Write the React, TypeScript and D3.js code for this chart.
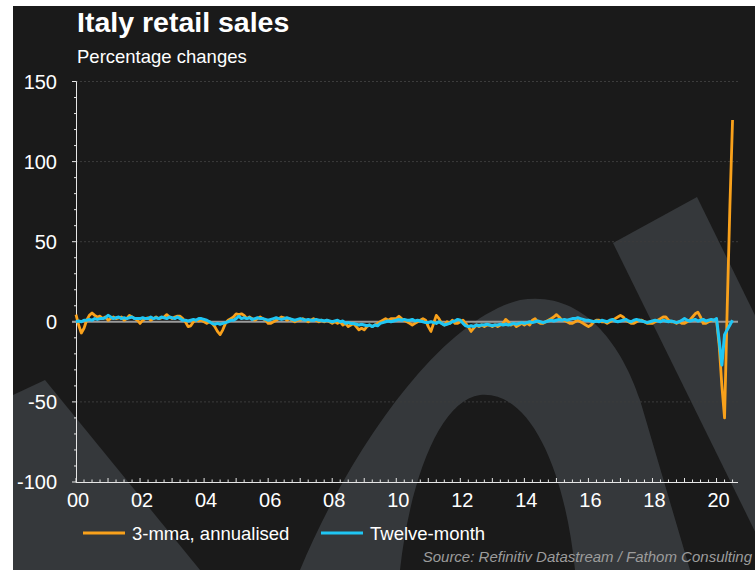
import React from "react";
import * as d3 from "d3";

// ---- DATA (monthly, Jan 2000 – Jul 2020) ----
const startYear = 2000;
const xTickLabels = ["00", "02", "04", "06", "08", "10", "12", "14", "16", "18", "20"];
const yTicks = [150, 100, 50, 0, -50, -100];
const seriesNames = ["3-mma, annualised", "Twelve-month"];

const mma3Annualised = [
  4.5, -2, -7, -4, 1, 4, 5.5, 4, 3, 3.5, 2, 3,
  1, 2, 3, 2, 2.5, 3, 1, 2, 4, 3, 2, 1,
  -1, 1, 2, 2.5, 1, 2, 3, 2, 2.5, 3, 4.5, 3,
  2, 3, 3.5, 3.5, 2, 0, -3, -2.5, 0, 1, 0.5, 1,
  0, -1, 0, -1, -3, -6, -8, -5, -1, 1, 2, 3,
  5, 4.5, 5, 4, 2, 3, 2, 1, 2, 3, 2, 1,
  -1, -1, 0, 1, 2, 3, 2.5, 1, 2, 1, 0, 1,
  1, 2, 1, 0, 1, 2, 1, 0, 1, 0, 1, 0,
  -1, 0, -1, 0, -2, -1, -3, -2, -1, -3, -5, -4,
  -5, -3, -2, -3, -2, -1, 0, 1, 2, 1, 2, 2,
  2, 3.5, 2, 1, 0, -1, -2, -1, 0, 1, 2, 1,
  -3, -6, -1, 4, 2, -1, -2, 0, -1, 1, -1, -1,
  0, 1, -1, -3, -6, -4, -2, -3, -2, -3, -2, -2,
  -3, -2, -3, -2, -1, 1.5, 0, -2, -1, -3, -2, -1,
  -2, -1, -2, 1, 2, 0, -1, -1, 0, 1, 2, 3,
  4.5, 3, 1, 1, 0, -1, -1, 0, 1, 0, -1, -2,
  -3, -2, 0, 1, 1, 0, 0, -1, 0, 1, 2, 3,
  4, 3, 1, 0, -1, -1, 0, 1, 1, 0, -1, -1,
  -1, 0, 1, 2, 3, 3, 1, 0, 0, -1, 0, -1,
  -1, 0, 1, 3, 5, 6, 3, -1, -1, 0, 1, 1,
  1, -15, -40, -60, 9, 72, 126,
];

const twelveMonth = [
  0, 0.5, 0, 1, 1, 1.5, 1, 2, 1.5, 2, 2, 2.5,
  4, 3, 2, 2.5, 3, 2, 2.5, 2, 2.5, 3, 2, 2,
  2, 2.5, 2, 2, 3, 2, 2.5, 2, 3, 2.5, 2, 3,
  2.5, 2, 3, 2, 1, 1, 0.5, 1, 1.5, 1, 2, 2,
  1.5, 1, 0, -1, -1.5, -1, -1.5, -1, -0.5, 0, 1, 1,
  2, 3.5, 2, 2.5, 2, 2.5, 1.5, 2, 2.5, 2, 2, 1.5,
  1, 1.5, 2, 2.5, 2, 1.5, 2, 2.5, 2, 1.5, 1, 1.5,
  2, 1.5, 1, 1.5, 1, 1, 1.5, 1, 1, 0.5, 1, 0.5,
  0, 0.5, 1, 0, 0.5, -1, -0.5, -1, -1, -1.5, -2, -1.5,
  -2, -2.5, -2, -3, -2, -2.5, -1, -0.5, 0, 0.5, 0, 0.5,
  1, 1.5, 1, 1.5, 1, 1, 1.5, 0.5, 1, 0.5, 0, -0.5,
  -0.5, 0, -0.5, -1, 0, -1, -2, -1.5, -1, 0, 0.5, 1.5,
  1, -1, -2.5, -3, -2.5, -3, -2, -2.5, -2, -2, -1.5, -2,
  -2.5, -2, -2, -1.5, -2, -1.5, -2, -1.5, -1, -1.5, -1, -0.5,
  -1, -0.5, 0, -0.5, 0, 0.5, 0, -0.5, 0, 0.5, 1, 0.5,
  1, 1.5, 1, 1.5, 1, 1.5, 2, 2, 2.5, 2, 1.5, 1,
  1, 0.5, 0, 0.5, 0, 1, 0.5, 0, 1, 1.5, 0.5, 0,
  0.5, 1, 1.5, 0.5, 0, 1, 1.5, 1, 0.5, 0, -0.5, 0,
  0.5, 1, 0.5, 0, 1, 0.5, 0, 0.5, 0, -0.5, 0, 1,
  2, 1, 0.5, 1, 1.5, 0.5, 1, 1.5, 0.5, 1, 1.5, 1,
  2, -12, -27, -8, -5, -2, 1,
];

const W = 755;
const H = 570;
const BG = "#1a1a1a";
const WM = "#35383b";
const ORANGE = "#f9a11b";
const BLUE = "#1fc6f4";
const FONT = "'Liberation Sans', Arial, sans-serif";

export default function App() {
  const x = d3.scaleLinear().domain([2000, 2020.67]).range([76, 738]);
  const y = d3.scaleLinear().domain([-100, 150]).range([482, 81.5]);

  const toPts = (arr: number[]) => arr.map((v, i) => [startYear + i / 12, v] as [number, number]);
  const line = d3
    .line<[number, number]>()
    .x((d) => x(d[0]))
    .y((d) => y(d[1]))
    .curve(d3.curveLinear);

  const minorY = d3.range(-100, 151, 10);
  const quarterTicks = d3.range(0, 20.67 * 4 + 0.01, 1).map((q) => 2000 + q / 4);

  return (
    <svg
      width={W}
      height={H}
      style={{ position: "absolute", left: 0, top: 0, display: "block" }}
      fontFamily={FONT}
    >
      <defs>
        <clipPath id="panel">
          <rect x={13} y={6} width={W - 13} height={H - 6} />
        </clipPath>
      </defs>
      <rect x={0} y={0} width={W} height={H} fill="#ffffff" />
      <rect x={13} y={6} width={W - 13} height={H - 6} fill={BG} />

      {/* watermark */}
      <g clipPath="url(#panel)" fill={WM}>
        <polygon points="613,243 697,197 880,570 774,570" />
        <path
          fillRule="evenodd"
          d="M 300 570 C 350 450 440 320 520 300 C 580 290 620 340 640 400 L 690 570 Z M 400 570 C 410 480 440 400 480 395 C 530 390 565 470 575 570 Z"
        />
        <path d="M 13 395 L 45 380 L 200 570 L 13 570 Z" />
      </g>

      {/* title */}
      <text x={77} y={31.5} fill="#fff" fontSize={28.5} fontWeight="bold">
        Italy retail sales
      </text>
      <text x={77} y={63} fill="#fff" fontSize={18.5}>
        Percentage changes
      </text>

      {/* gridlines */}
      {yTicks
        .filter((t) => t !== 0 && t !== -100)
        .map((t) => (
          <line
            key={"g" + t}
            x1={76}
            x2={738}
            y1={y(t)}
            y2={y(t)}
            stroke="#3c3c3c"
            strokeWidth={1}
            strokeDasharray="2,2"
          />
        ))}

      {/* y axis */}
      <line x1={76.5} x2={76.5} y1={y(150)} y2={y(-100)} stroke="#e6e6e6" strokeWidth={1} />
      {minorY.map((t) => (
        <line
          key={"my" + t}
          x1={t % 50 === 0 ? 72 : 74}
          x2={76.5}
          y1={y(t)}
          y2={y(t)}
          stroke="#e6e6e6"
          strokeWidth={1}
        />
      ))}
      {yTicks.map((t) => (
        <text
          key={"yl" + t}
          x={57}
          y={y(t)}
          dy="0.36em"
          textAnchor="end"
          fill="#fff"
          fontSize={20}
        >
          {t}
        </text>
      ))}

      {/* zero line */}
      <line x1={72} x2={738} y1={y(0)} y2={y(0)} stroke="#9a9a9a" strokeWidth={2} />

      {/* x axis */}
      <line x1={76} x2={738} y1={y(-100) + 0.5} y2={y(-100) + 0.5} stroke="#e6e6e6" strokeWidth={1} />
      {quarterTicks.map((t, i) => (
        <line
          key={"qx" + i}
          x1={x(t)}
          x2={x(t)}
          y1={y(-100) + 0.5}
          y2={y(-100) - (i % 4 === 0 ? 4 : 2.5)}
          stroke="#e6e6e6"
          strokeWidth={1}
        />
      ))}
      {xTickLabels.map((lab, i) => (
        <text
          key={"xl" + lab}
          x={x(2000 + i * 2) + 2}
          y={507}
          textAnchor="middle"
          fill="#fff"
          fontSize={20}
        >
          {lab}
        </text>
      ))}

      {/* series */}
      <path d={line(toPts(mma3Annualised)) || ""} fill="none" stroke={ORANGE} strokeWidth={2.8} strokeLinejoin="round" />
      <path d={line(toPts(twelveMonth)) || ""} fill="none" stroke={BLUE} strokeWidth={3} strokeLinejoin="round" />

      {/* legend */}
      <line x1={83} x2={125} y1={533} y2={533} stroke={ORANGE} strokeWidth={3} />
      <text x={132} y={540} fill="#fff" fontSize={18.5}>
        {seriesNames[0]}
      </text>
      <line x1={321} x2={363} y1={533} y2={533} stroke={BLUE} strokeWidth={3} />
      <text x={370} y={540} fill="#fff" fontSize={18.5}>
        {seriesNames[1]}
      </text>

      {/* source */}
      <text x={752} y={562} textAnchor="end" fill="#9c9c9c" fontSize={15} fontStyle="italic">
        Source: Refinitiv Datastream / Fathom Consulting
      </text>
    </svg>
  );
}
